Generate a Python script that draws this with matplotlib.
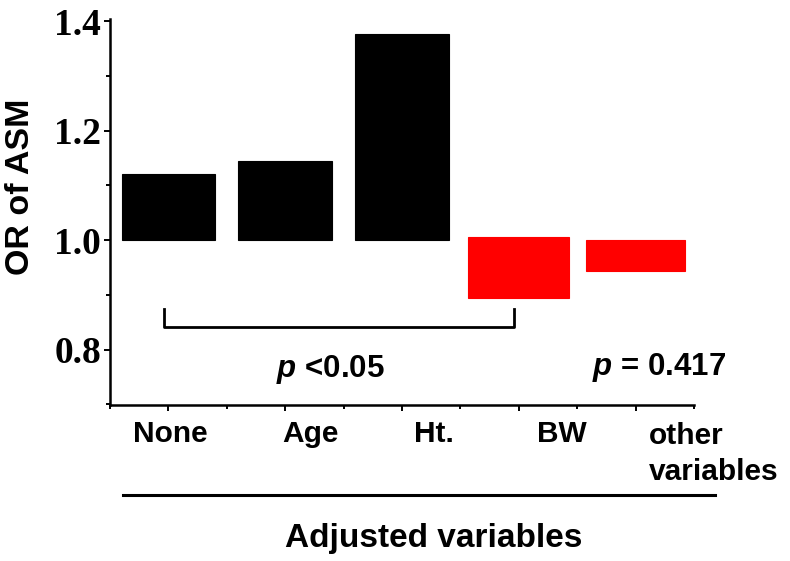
import numpy as np
import matplotlib
matplotlib.use('Agg')
import matplotlib.pyplot as plt
from matplotlib import transforms
from matplotlib.lines import Line2D

plt.rcParams['font.family'] = ['Liberation Sans', 'DejaVu Sans']
plt.rcParams['mathtext.fontset'] = 'custom'
plt.rcParams['mathtext.it'] = 'Liberation Sans:bold:italic'
plt.rcParams['mathtext.rm'] = 'Liberation Sans:bold'

# data (odds ratio, bars drawn from low to high)
categories = ['None', 'Age', 'Ht.', 'BW', 'other\nvariables']
or_low = [1.0, 1.0, 1.0, 0.895, 0.944]
or_high = [1.12, 1.144, 1.377, 1.005, 1.0]
bar_colors = ['black', 'black', 'black', '#ff0000', '#ff0000']
bar_widths = [0.8, 0.8, 0.8, 0.865, 0.85]
p_sig = r'$p$ <0.05'
p_ns = r'$p$ = 0.417'

x = np.arange(len(categories))
low = np.array(or_low)
high = np.array(or_high)

fig = plt.figure(figsize=(7.9, 5.61), dpi=100)
ax = fig.add_axes([0.1392, 0.2772, 0.7394, 0.689])

ax.bar(x, high - low, bottom=low, width=bar_widths, color=bar_colors,
       edgecolor=bar_colors, linewidth=0.8)

ax.set_xlim(-0.5, 4.5)
ax.set_ylim(0.698, 1.404)

ax.spines['top'].set_visible(False)
ax.spines['right'].set_visible(False)
ax.spines['left'].set_linewidth(1.8)
ax.spines['bottom'].set_linewidth(1.8)

ax.set_yticks([0.8, 1.0, 1.2, 1.4])
ax.set_yticks([0.7, 0.9, 1.1, 1.3], minor=True)
ax.set_yticklabels(['0.8', '1.0', '1.2', '1.4'], family='Liberation Serif',
                   fontweight='bold', fontsize=27)
ax.set_xticks(x)
ax.set_xticks(np.arange(-0.5, 5.0, 1.0), minor=True)
ax.set_xticklabels([])
ax.tick_params(which='major', length=4.5, width=1.4, pad=2)
ax.tick_params(which='minor', length=3.2, width=1.4)

# category labels sit a bit right of their ticks in the original
trans = transforms.blended_transform_factory(ax.transData, fig.transFigure)
label_x = [0.02, 1.22, 2.27, 3.37]
for lx, name in zip(label_x, categories[:4]):
    ax.text(lx, 0.2116, name, transform=trans, ha='center', va='baseline',
            fontsize=21.5, fontweight='bold')
# two-line label: baseline alignment uses the last line
ax.text(4.11, 1 - 480 / 561, categories[4], transform=trans, ha='left',
        va='baseline', fontsize=21.5, fontweight='bold', linespacing=1.35)

# significance bracket
ax.plot([-0.04, -0.04, 2.96, 2.96], [0.875, 0.8405, 0.8405, 0.875],
        color='black', lw=2, clip_on=False)
ax.text(1.39, 0.75, p_sig, ha='center', va='baseline', fontsize=22.5,
        fontweight='bold')
ax.text(4.2, 0.754, p_ns, ha='center', va='baseline', fontsize=22.5,
        fontweight='bold')

fig.text(21 / 790, 1 - 187 / 561, 'OR of ASM', rotation=90, ha='center',
         va='center', fontsize=24.5, fontweight='bold')

fig.add_artist(Line2D([123 / 790, 715 / 790], [1 - 495 / 561, 1 - 495 / 561],
                      color='black', lw=2.2))
fig.text(434 / 790, 1 - 546.7 / 561, 'Adjusted variables', ha='center',
         va='baseline', fontsize=24, fontweight='bold')

fig.savefig('out.png', dpi=100)
